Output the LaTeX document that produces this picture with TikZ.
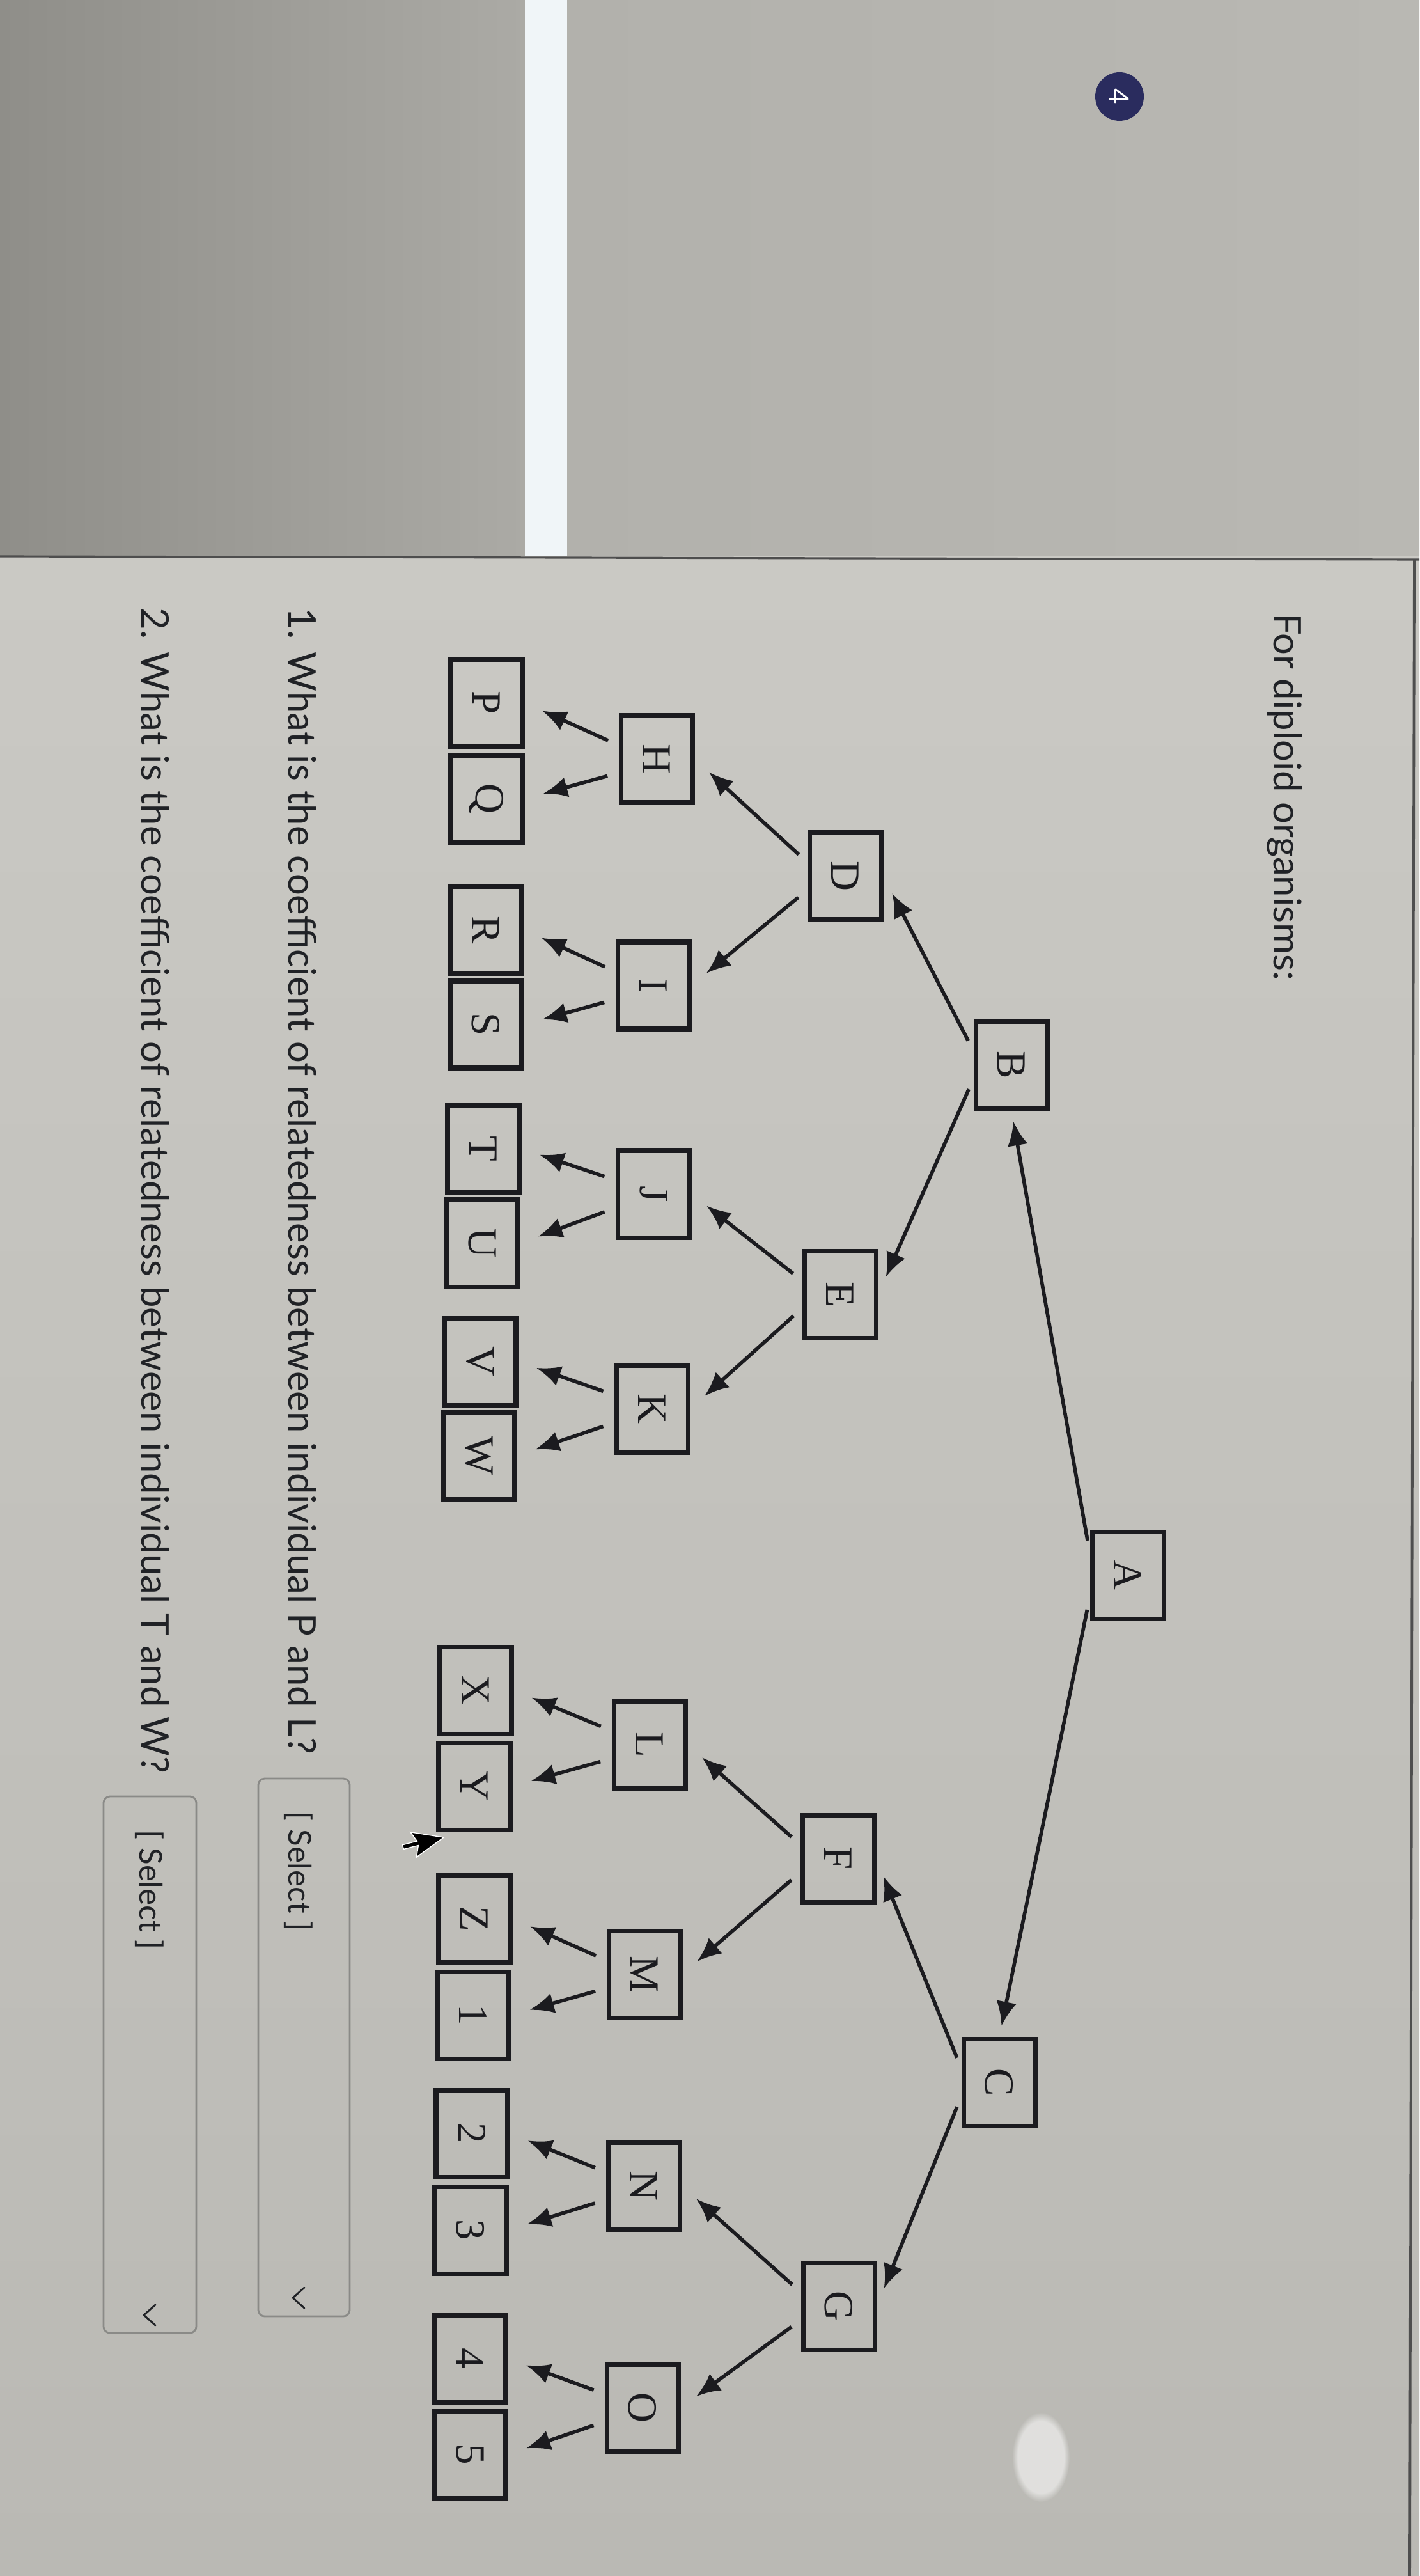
\documentclass[tikz,border=0pt]{standalone}
\usepackage{fontspec}
\setmainfont{Liberation Serif}
\newfontfamily\uifont{Lato}
\usetikzlibrary{arrows.meta,fadings}

\definecolor{ink}{HTML}{1B1B1F}
\definecolor{txt}{HTML}{202226}
\definecolor{badge}{HTML}{2A2C5E}
\definecolor{selgray}{HTML}{8A8A87}
\definecolor{pagetop}{HTML}{CAC9C4}
\definecolor{pagebot}{HTML}{BAB9B4}
\definecolor{sideL}{HTML}{8F8E89}
\definecolor{sideR}{HTML}{ABAAA5}
\definecolor{headL}{HTML}{B2B1AC}
\definecolor{headR}{HTML}{B9B8B3}
\definecolor{bar}{HTML}{F0F5F8}
\definecolor{rule}{HTML}{4E4E4E}

\begin{document}
\begin{tikzpicture}[x=1cm,y=-1cm,
  box/.style={draw=ink, line width=2pt, rotate=-90, minimum width=1.36cm, minimum height=1.12cm, inner sep=0pt, text=ink, font=\fontsize{18.5}{20}\selectfont},
  link/.style={draw=ink, line width=1.6pt, -{Latex[length=0.38cm,width=0.32cm]}, shorten <=0.18cm, shorten >=0.3cm},
  uitext/.style={rotate=-90, anchor=base west, inner sep=0pt, text=txt, font=\uifont\fontsize{17}{20}\selectfont},
  seltext/.style={rotate=-90, anchor=base west, inner sep=0pt, text=txt, font=\uifont\fontsize{14}{16}\selectfont},
  selbox/.style={draw=selgray, line width=0.8pt, rounded corners=0.1cm},
  chev/.style={draw=txt, line width=0.8pt, line cap=round, line join=round}]
\useasboundingbox (0,0) rectangle (22.2,40.28);

% screen background
\fill[pagetop] (0,0) rectangle (22.2,40.28);
\shade[top color=pagetop, bottom color=pagebot] (0,8.7) rectangle (22.2,40.28);
\shade[left color=sideL, right color=sideR] (0,0) rectangle (8.21,8.7);
\fill[bar] (8.21,0) rectangle (8.87,8.7);
\shade[left color=headL, right color=headR] (8.87,0) rectangle (22.2,8.7);
\draw[rule, line width=0.9pt] (0,8.7) -- (22.2,8.75);
\draw[rule, line width=1.1pt] (22.12,8.75) -- (22.05,40.28);
\fill[white, opacity=0.55, path fading=circle with fuzzy edge 20 percent] (16.28,38.42) ellipse [x radius=0.45, y radius=0.7];

% question number
\node[circle, fill=badge, minimum size=0.76cm, inner sep=0pt, text=white, rotate=-90, font=\uifont\fontsize{12}{14}\selectfont] (num) at (17.51,1.51) {4};

\node[uitext] (intro) at (19.92,9.59) {For diploid organisms:};

% tree
\node[box] (A) at (17.64,24.63) {A};
\node[box] (B) at (15.82,16.65) {B};
\node[box] (C) at (15.63,32.56) {C};
\node[box] (D) at (13.22,13.70) {D};
\node[box] (E) at (13.14,20.24) {E};
\node[box] (F) at (13.11,29.06) {F};
\node[box] (G) at (13.12,36.06) {G};
\node[box] (H) at (10.27,11.87) {H};
\node[box] (I) at (10.22,15.41) {I};
\node[box] (J) at (10.22,18.67) {J};
\node[box] (K) at (10.20,22.03) {K};
\node[box] (L) at (10.16,27.28) {L};
\node[box] (M) at (10.08,30.87) {M};
\node[box] (N) at (10.07,34.18) {N};
\node[box] (O) at (10.05,37.65) {O};
\foreach \name/\lab/\x/\y in {P/P/7.61/10.99, Q/Q/7.61/12.49, R/R/7.60/14.54, S/S/7.60/16.02,
    T/T/7.56/17.96, U/U/7.54/19.44, V/V/7.51/21.29, W/W/7.49/22.76,
    X/X/7.44/26.43, Y/Y/7.42/27.93, Z/Z/7.42/30.00, n1/1/7.40/31.51,
    n2/2/7.38/33.36, n3/3/7.36/34.87, n4/4/7.35/36.88, n5/5/7.35/38.38}
  \node[box] (\name) at (\x,\y) {\lab};

\draw[link, shorten <=0.2cm, shorten >=0.17cm] (A.240) -- (B.east);
\draw[link, shorten <=0.2cm, shorten >=0.17cm] (A.300) -- (C.west);
\foreach \p/\a/\b in {B/D/E, C/F/G, D/H/I, E/J/K, F/L/M, G/N/O,
    H/P/Q, I/R/S, J/T/U, K/V/W, L/X/Y, M/Z/n1, N/n2/n3, O/n4/n5} {
  \draw[link] (\p.250) -- (\a.north);
  \draw[link] (\p.290) -- (\b.north);
}

% questions
\node[uitext] (q1) at (4.51,9.50) {1. What is the coefficient of relatedness between individual P and L?};
\node[uitext] (q2) at (2.21,9.50) {2. What is the coefficient of relatedness between individual T and W?};

\draw[selbox] (4.04,27.81) rectangle (5.47,36.22);
\node[seltext] (s1) at (4.51,28.32) {[ Select ]};
\draw[chev] (4.76,35.77) -- (4.58,35.93) -- (4.76,36.09);

\draw[selbox] (1.62,28.09) rectangle (3.07,36.48);
\node[seltext] (s2) at (2.18,28.61) {[ Select ]};
\draw[chev] (2.43,36.04) -- (2.25,36.20) -- (2.43,36.36);

% mouse pointer
\begin{scope}[shift={(6.94,28.73)}, rotate=-99, x=0.031cm, y=0.031cm]
  \filldraw[fill=black, draw=white, line width=0.4pt] (0,0) -- (0,-17) -- (4,-13) -- (7,-20) -- (9,-19) -- (6,-12) -- (12,-12) -- cycle;
\end{scope}
\end{tikzpicture}
\end{document}
